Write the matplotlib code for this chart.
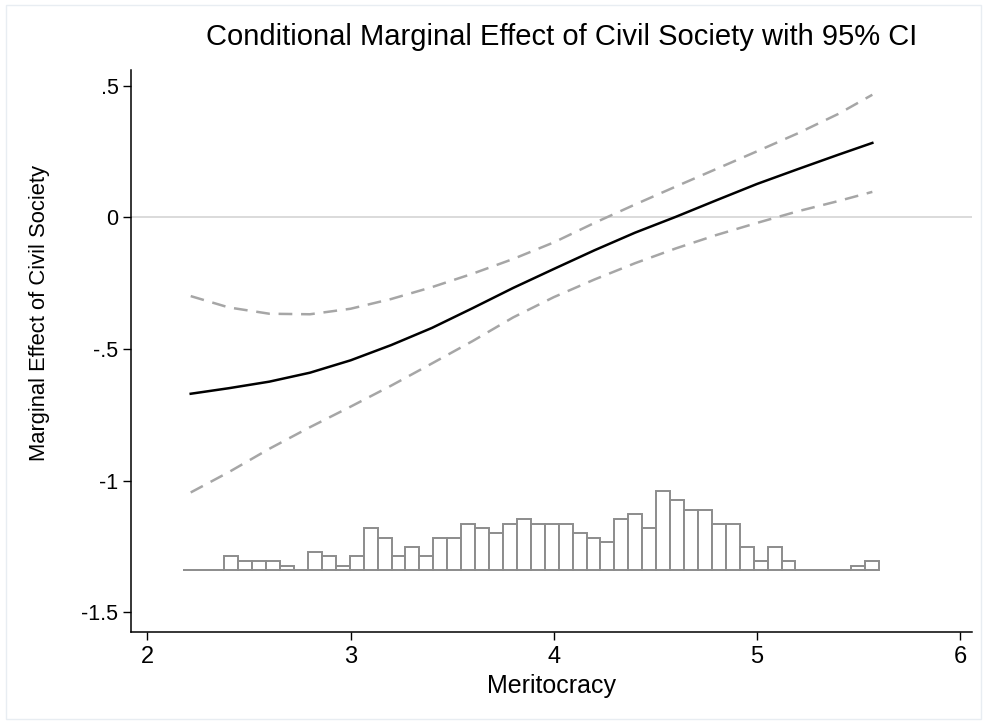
import numpy as np
import matplotlib
matplotlib.use("Agg")
import matplotlib.pyplot as plt
from matplotlib.patches import Rectangle

plt.rcParams['font.family'] = ['Liberation Sans', 'DejaVu Sans']

# marginal effect curve and 95% CI
meritocracy = [2.213, 2.4, 2.6, 2.8, 3.0, 3.2, 3.4, 3.6, 3.8, 4.0, 4.2,
               4.4, 4.6, 4.8, 5.0, 5.2, 5.4, 5.568]
effect = [-0.670, -0.649, -0.624, -0.590, -0.543, -0.485, -0.420, -0.345,
          -0.268, -0.196, -0.125, -0.058, 0.002, 0.065, 0.127, 0.183,
          0.238, 0.283]
ci_upper = [-0.299, -0.342, -0.366, -0.368, -0.347, -0.310, -0.265, -0.214,
            -0.158, -0.095, -0.021, 0.049, 0.117, 0.184, 0.251, 0.319,
            0.393, 0.466]
ci_lower = [-1.045, -0.968, -0.879, -0.797, -0.719, -0.639, -0.555, -0.470,
            -0.380, -0.303, -0.236, -0.174, -0.118, -0.067, -0.021, 0.023,
            0.062, 0.097]

# histogram of meritocracy (frequency per bin)
hist_min, hist_max = 2.173, 5.601
hist_counts = [0, 0, 0, 3, 2, 2, 2, 1, 0, 4, 3, 1, 3, 9, 7, 3, 5, 3, 7, 7,
               10, 9, 8, 10, 11, 10, 10, 10, 8, 7, 6, 11, 12, 9, 17, 15, 13,
               13, 10, 10, 5, 2, 5, 2, 0, 0, 0, 0, 1, 2]

xticks = [2, 3, 4, 5, 6]
yticks = [0.5, 0, -0.5, -1, -1.5]
yticklabels = ['.5', '0', '-.5', '-1', '-1.5']

# histogram placement inside the plot (Stata-style rescaled overlay)
hist_base = -1.341
hist_unit = 0.01773

fig = plt.figure(figsize=(9.87, 7.24), dpi=100)
ax = fig.add_axes([0.1327, 0.1275, 0.852, 0.7758])

fig.patches.append(Rectangle((0.006, 0.007), 0.988, 0.986, transform=fig.transFigure,
                             fill=False, edgecolor='#e8edf2', linewidth=1.0))

ax.axhline(0, color='#dadada', linewidth=1.4, zorder=1)

edges = np.linspace(hist_min, hist_max, len(hist_counts) + 1)
heights = np.array(hist_counts) * hist_unit
ax.bar(edges[:-1], heights, width=np.diff(edges), bottom=hist_base, align='edge',
       facecolor='white', edgecolor='#8c8c8c', linewidth=1.4, zorder=2)

ax.plot(meritocracy, ci_upper, color='#a6a6a6', linewidth=1.8,
        dashes=(5.5, 3.5), zorder=3)
ax.plot(meritocracy, ci_lower, color='#a6a6a6', linewidth=1.8,
        dashes=(5.5, 3.5), zorder=3)
ax.plot(meritocracy, effect, color='black', linewidth=1.8, zorder=4)

ax.set_xlim(1.919, 6.058)
ax.set_ylim(-1.574, 0.560)
ax.set_xticks(xticks)
ax.set_yticks(yticks)
ax.set_yticklabels(yticklabels)
ax.tick_params(direction='out', length=6, width=1, pad=3)
ax.tick_params(axis='x', labelsize=17, pad=4)
ax.tick_params(axis='y', labelsize=15.5)

for side in ['top', 'right']:
    ax.spines[side].set_visible(False)
for side in ['left', 'bottom']:
    ax.spines[side].set_linewidth(1.1)

ax.set_xlabel('Meritocracy', fontsize=18)
ax.xaxis.set_label_coords(0.5, -0.075)
ax.set_ylabel('Marginal Effect of Civil Society', fontsize=15.8)
ax.yaxis.set_label_coords(-0.096, 0.567)
fig.text(562 / 987, 1 - 37 / 724, 'Conditional Marginal Effect of Civil Society with 95% CI',
         ha='center', va='center', fontsize=21)

fig.savefig('out.png', dpi=100, facecolor='white')
